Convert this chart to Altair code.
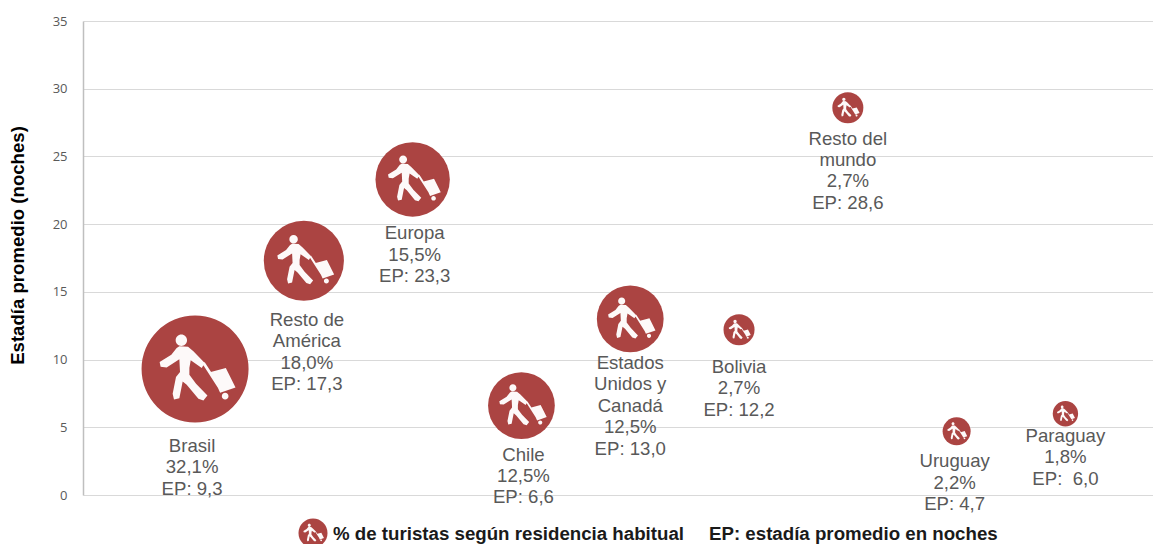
import altair as alt
import pandas as pd

regions = ["Brasil", "Resto de América", "Europa", "Chile", "Estados Unidos y Canadá", "Bolivia", "Resto del mundo", "Uruguay", "Paraguay"]
positions = [1, 2, 3, 4, 5, 6, 7, 8, 9]
stay = [9.3, 17.3, 23.3, 6.6, 13.0, 12.2, 28.6, 4.7, 6.0]
share = [32.1, 18.0, 15.5, 12.5, 12.5, 2.7, 2.7, 2.2, 1.8]
labels = [
    ["Brasil", "32,1%", "EP: 9,3"],
    ["Resto de", "América", "18,0%", "EP: 17,3"],
    ["Europa", "15,5%", "EP: 23,3"],
    ["Chile", "12,5%", "EP: 6,6"],
    ["Estados", "Unidos y", "Canadá", "12,5%", "EP: 13,0"],
    ["Bolivia", "2,7%", "EP: 12,2"],
    ["Resto del", "mundo", "2,7%", "EP: 28,6"],
    ["Uruguay", "2,2%", "EP: 4,7"],
    ["Paraguay", "1,8%", "EP:\u00a0 6,0"],
]
label_dy = [68, 50, 45, 40, 35, 28, 22, 21, 13]
label_dx = [-3, 3, 2, 2, 0, 0, 0, -2, 0]
y_ticks = [0, 5, 10, 15, 20, 25, 30, 35]

RED = "#AB4442"
GREY = "#595959"
W, H = 1070, 474
MAX_R = 53.5


def pt(x, y):
    return f"{(x - 193) / 160:.4f},{(y - 181) / 160:.4f}"


def poly(points):
    return "M" + " L".join(pt(x, y) for x, y in points) + " Z"


def disc(cx, cy, r):
    rr = r / 160
    return (f"M{pt(cx - r, cy)} A{rr:.4f},{rr:.4f} 0 1 1 {pt(cx + r, cy)} "
            f"A{rr:.4f},{rr:.4f} 0 1 1 {pt(cx - r, cy)} Z")


PERSON = " ".join([
    disc(152, 95, 17),
    poly([(146, 113), (172, 114), (188, 128), (222, 163), (213, 178), (180, 155), (176, 178),
          (176, 198), (196, 225), (230, 260), (218, 275), (203, 270), (168, 228), (156, 218),
          (146, 268), (130, 272), (126, 255), (136, 205), (148, 190), (146, 152), (108, 176),
          (90, 174), (87, 160), (122, 138), (138, 118)]),
    poly([(215, 165), (222, 161), (272, 238), (265, 243)]),
    poly([(240, 190), (285, 178), (314, 236), (268, 252)]),
    disc(283, 262, 10),
])

df = pd.DataFrame({"region": regions, "pos": positions, "stay": stay, "share": share})

x = alt.X("pos:Q", scale=alt.Scale(domain=[-0.03, 9.805], nice=False, zero=False), axis=None)
y = alt.Y(
    "stay:Q",
    scale=alt.Scale(domain=[0, 35], nice=False),
    axis=alt.Axis(
        values=y_ticks, title="Estadía promedio (noches)", titleFont="Liberation Sans", titleFontSize=18.6,
        titleFontWeight="bold", titleColor="#000000", titleX=-56, titleY=224, labelFont="Open Sans",
        labelFontSize=13, labelColor=GREY, labelPadding=16, ticks=False, domainColor="#BFBFBF",
        domainWidth=1.5, grid=True, gridColor="#D9D9D9", gridWidth=1,
    ),
)

size_scale = alt.Scale(domain=[0, 32.1], range=[0, 4 * MAX_R ** 2])

bubbles = alt.Chart(df).mark_point(filled=True, shape="circle", color=RED, opacity=1).encode(
    x=x, y=y, size=alt.Size("share:Q", scale=size_scale, legend=None)
)
icons = alt.Chart(df).mark_point(filled=True, shape=PERSON, color="#FFFFFF", opacity=0.97).encode(
    x=x, y=y, size=alt.Size("share:Q", scale=size_scale, legend=None)
)

layers = [bubbles, icons]
for i, lines in enumerate(labels):
    row = pd.DataFrame({"pos": [positions[i]], "stay": [stay[i]], "txt": [lines]})
    layers.append(
        alt.Chart(row).mark_text(
            font="Liberation Sans", fontSize=18.6, color=GREY, baseline="top", align="center",
            lineHeight=21.4, dy=label_dy[i], dx=label_dx[i],
        ).encode(x=x, y=y, text="txt:N")
    )

# Legend line under the plot
key = alt.Chart(pd.DataFrame({"k": [1]}))
leg_y = 533 - 21
layers += [
    key.mark_point(filled=True, shape="circle", color=RED, opacity=1, size=4 * 14.5 ** 2).encode(
        x=alt.value(313 - 83), y=alt.value(leg_y)),
    key.mark_point(filled=True, shape=PERSON, color="#FFFFFF", opacity=0.97, size=4 * 14.5 ** 2).encode(
        x=alt.value(313 - 83), y=alt.value(leg_y)),
    key.mark_text(text="% de turistas según residencia habitual", font="Liberation Sans", fontSize=18.7,
                  fontWeight="bold", color="#1A1A1A", align="left", baseline="middle").encode(
        x=alt.value(333 - 83), y=alt.value(leg_y + 1)),
    key.mark_text(text="EP: estadía promedio en noches", font="Liberation Sans", fontSize=18.7,
                  fontWeight="bold", color="#1A1A1A", align="left", baseline="middle").encode(
        x=alt.value(709 - 83), y=alt.value(leg_y + 1)),
]

chart = alt.layer(*layers).properties(
    width=W, height=H,
    autosize=alt.AutoSizeParams(type="none"),
    padding={"left": 75, "top": 13, "right": 0, "bottom": 49},
).configure_view(stroke=None, clip=False)

chart.save("out.html", embed_options={"renderer": "svg", "actions": False})
